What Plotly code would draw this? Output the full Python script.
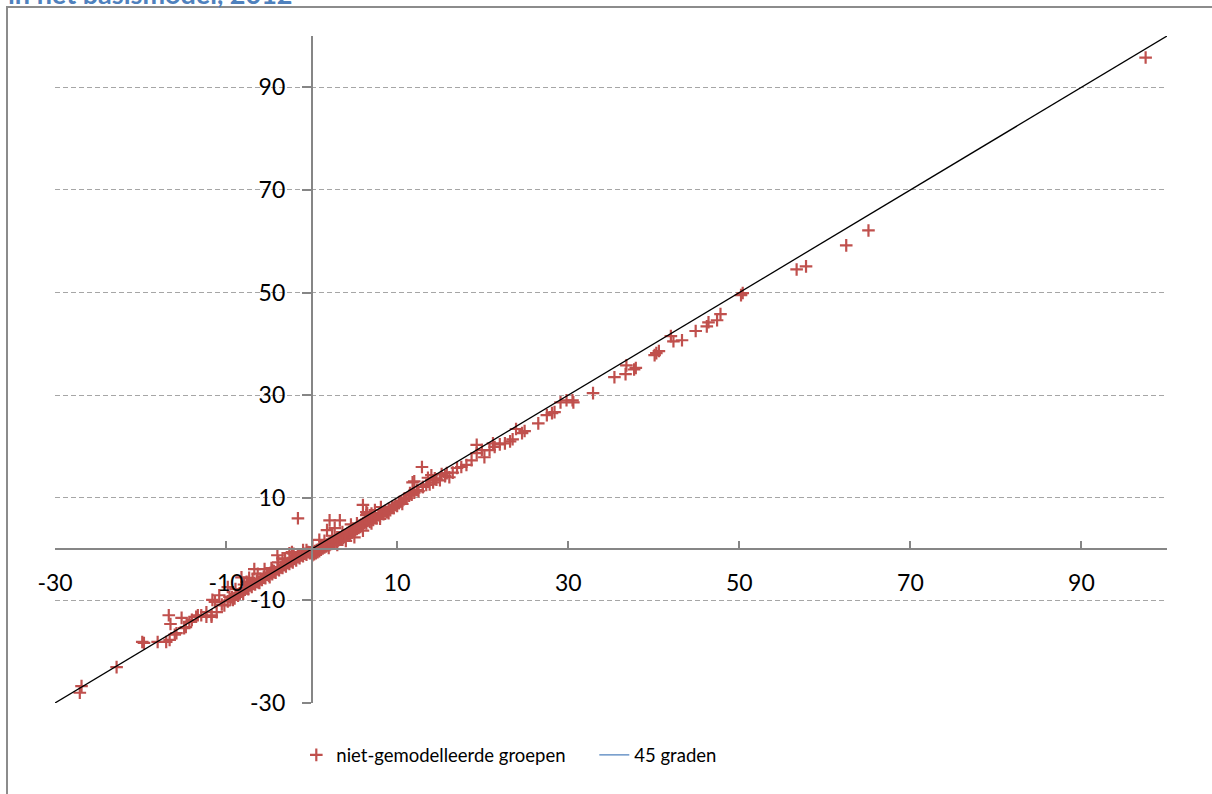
import plotly.graph_objects as go

# --- data ---
pts_x = [
    # far left
    -27.1, -26.9, -22.8, -19.8, -19.6, -18.0, -17.0, -16.6, -16.0, -15.8, -14.9, -14.7,
    -14.0, -13.5, -12.9, -16.7, -16.5, -15.2, -14.3, -13.3, -12.3, -11.7, -11.1, -12.3,
    -11.7, -11.3, -11.6, -10.8, -10.5, -10.2, -9.6, -9.2, -9.8, -8.4, -8.2, -7.6, -7.3,
    -6.9, -6.7, -6.1, -4.9, -4.7, -4.6, -4.0, -3.4, -2.6, -2.3, -1.4, -0.6, -1.6,
    # -10 .. 0 band
    -9.8, -9.5, -9.3, -9.0, -8.8, -8.6, -8.4, -8.2, -8.0, -7.8, -7.6, -7.4, -7.2, -7.0,
    -6.8, -6.6, -6.4, -6.2, -6.0, -5.8, -5.6, -5.4, -5.2, -5.0, -4.8, -4.6, -4.4, -4.2,
    -4.0, -3.8, -3.6, -3.4, -3.2, -3.0, -2.8, -2.6, -2.4, -2.2, -2.0, -1.8, -1.6, -1.4,
    -1.2, -1.0, -0.8, -0.6, -0.4, -0.2, -8.9, -7.9, -6.3, -5.5, -3.9, -3.1, -2.1, -1.0,
    # 0 .. 12 band
    0.1, 0.2, 0.3, 0.4, 0.5, 0.6, 0.7, 0.8, 0.9, 1.0, 1.1, 1.2, 1.3, 1.4, 1.5, 1.6, 1.7,
    1.8, 1.9, 2.0, 2.1, 2.2, 2.3, 2.4, 2.5, 2.6, 2.7, 2.8, 2.9, 3.0, 3.1, 3.2, 3.3, 3.4,
    3.5, 3.6, 3.7, 3.8, 3.9, 4.0, 4.1, 4.2, 4.3, 4.4, 4.5, 4.6, 4.7, 4.8, 4.9, 5.0, 5.1,
    5.2, 5.3, 5.4, 5.5, 5.6, 5.7, 5.8, 5.9, 6.0, 6.2, 6.4, 6.6, 6.8, 7.0, 7.2, 7.4, 7.6,
    7.8, 8.0, 8.2, 8.4, 8.6, 8.8, 9.0, 9.2, 9.4, 9.6, 9.8, 10.0, 10.2, 10.5, 10.8, 11.1,
    11.4, 11.7, 12.0, 4.6, 5.3, 6.4, 7.0, 7.4, 8.1, 3.6, 2.4, 1.5, 3.0, 4.0, 5.0, 6.0,
    2.0, 7.0, 8.0, 9.0, 6.0, 6.4, 6.5, 2.1, 3.3, 1.8, 2.7, 0.9, 0.1, 11.8, 10.3, 10.6,
    10.9, 11.5, 12.3, 13.0,
    # 12 .. 33
    12.5, 13.0, 13.4, 13.8, 14.2, 14.6, 15.0, 15.6, 16.1, 16.5, 17.0, 17.5, 18.1, 18.7,
    19.3, 19.9, 19.3, 20.2, 20.8, 21.2, 21.4, 22.0, 22.6, 23.2, 23.5, 23.9, 24.6, 24.9,
    26.5, 27.5, 28.1, 28.4, 29.1, 29.8, 30.5, 30.6, 32.9, 12.9, 12.0, 13.6, 14.0, 14.4,
    15.2, 15.8,
    # 33 .. 100
    35.4, 36.7, 36.8, 37.7, 37.9, 40.1, 40.3, 40.6, 42.0, 42.3, 43.3, 44.9, 46.2, 46.4,
    47.4, 47.8, 50.2, 50.4, 56.7, 57.8, 62.5, 65.1, 97.5,
]
pts_y = [
    -28.0, -26.7, -23.0, -18.1, -18.3, -18.1, -18.1, -17.7, -16.7, -16.4, -15.4, -15.2,
    -13.8, -13.2, -12.9, -12.9, -14.6, -13.4, -14.2, -12.9, -13.2, -13.2, -12.3, -12.3,
    -12.9, -10.3, -9.9, -9.0, -10.8, -11.0, -9.3, -9.9, -7.4, -8.6, -5.5, -6.4, -5.6,
    -6.0, -3.9, -6.6, -5.5, -3.7, -4.1, -1.2, -1.8, -0.8, -0.6, -1.2, -0.2, 6.0,
    -10.2, -9.8, -9.4, -9.6, -8.9, -9.1, -8.6, -8.3, -8.7, -7.9, -7.6, -7.8, -7.1, -7.4,
    -6.6, -6.9, -6.2, -6.5, -5.8, -6.0, -5.4, -5.7, -4.9, -5.2, -4.6, -4.9, -4.3, -4.6,
    -3.9, -4.1, -3.5, -3.7, -3.1, -3.4, -2.7, -2.9, -2.3, -2.6, -1.9, -2.2, -1.5, -1.8,
    -1.2, -1.4, -0.9, -1.1, -0.6, -0.8, -7.8, -6.9, -4.8, -3.9, -2.6, -2.0, -0.9, -0.2,
    -1.2, -0.6, -1.0, -0.4, -0.8, -0.2, -0.6, -0.1, -0.4, 0.2, -0.1, 0.4, 0.1, 0.6, 0.3,
    0.7, 0.5, 0.9, 0.7, 1.1, 0.8, 1.3, 1.0, 1.4, 1.2, 1.6, 1.3, 1.8, 1.5, 1.9, 1.7, 2.1,
    1.9, 2.3, 2.0, 2.5, 2.2, 2.7, 2.4, 2.9, 2.6, 3.1, 2.8, 3.3, 3.0, 3.5, 3.2, 3.7, 3.4,
    3.9, 3.7, 4.1, 3.9, 4.3, 4.1, 4.6, 4.3, 4.8, 4.5, 5.0, 5.2, 5.0, 5.6, 5.3, 5.9, 5.7,
    6.3, 6.0, 6.6, 6.4, 7.0, 6.8, 7.4, 7.2, 7.8, 7.6, 8.2, 8.0, 8.6, 8.4, 9.0, 9.3, 9.7,
    9.9, 10.4, 10.6, 11.0, 4.8, 5.0, 6.6, 6.9, 7.6, 8.2, 3.3, 2.6, 1.6, 0.8, 1.6, 2.3,
    3.6, 0.2, 5.0, 5.9, 7.0, 8.6, 7.2, 7.0, 5.6, 5.6, 3.7, 4.1, 1.8, 0.4, 13.0, 9.2, 8.8,
    9.9, 10.9, 11.5, 12.1,
    11.3, 12.1, 12.5, 12.6, 13.0, 13.5, 13.4, 14.2, 14.0, 14.9, 15.8, 16.0, 16.4, 17.3,
    18.7, 19.3, 20.3, 17.9, 19.3, 20.6, 19.9, 20.4, 20.6, 21.0, 21.4, 23.4, 22.6, 23.0,
    24.5, 26.1, 26.5, 26.7, 28.6, 29.0, 29.0, 28.6, 30.4, 16.0, 13.2, 13.9, 14.4, 13.8,
    14.6, 14.8,
    33.5, 34.1, 35.8, 35.0, 35.3, 37.8, 38.2, 38.6, 41.5, 40.5, 40.7, 42.5, 43.4, 44.2,
    44.6, 45.8, 49.5, 49.9, 54.5, 55.1, 59.2, 62.1, 95.8,
]
line_x = [-30, 100]
line_y = [-30, 100]
tick_vals = [-30, -10, 10, 30, 50, 70, 90]
tick_text = ["-30", "-10", "10", "30", "50", "70", "90"]
series_names = ["niet-gemodelleerde groepen", "45 graden"]
title_text = "in het basismodel, 2012"

FONT = "Lato, Carlito, Calibri, sans-serif"
RED = "#C0504D"
AXIS = "#868686"

fig = go.Figure()
fig.add_trace(go.Scatter(
    x=pts_x, y=pts_y, mode="markers", name=series_names[0],
    marker=dict(symbol="cross-thin", size=9, line=dict(color=RED, width=2.2), color=RED),
))
fig.add_trace(go.Scatter(
    x=line_x, y=line_y, mode="lines", name=series_names[1], showlegend=False,
    line=dict(color="black", width=1.3),
))
# legend entry (Excel shows the legend line in blue)
fig.add_trace(go.Scatter(
    x=[None], y=[None], mode="lines", name=series_names[1],
    line=dict(color="#4F81BD", width=1.3),
))

W, H = 1212, 794
ML, MR, MT, MB = 55, 45, 36, 91
pw, ph = W - ML - MR, H - MT - MB

zero_frac = 30 / 130
fig.update_layout(
    width=W, height=H,
    margin=dict(l=ML, r=MR, t=MT, b=MB),
    paper_bgcolor="white", plot_bgcolor="white",
    font=dict(family=FONT, size=23, color="black"),
    showlegend=True,
    legend=dict(orientation="h", x=0.217, xanchor="left", y=-0.05, yanchor="top",
                font=dict(size=18.5), itemwidth=30, entrywidth=253, entrywidthmode="pixels"),
    xaxis=dict(range=[-30, 100], tickvals=tick_vals, ticktext=tick_text,
               ticks="inside", ticklen=7,
               tickcolor=AXIS, tickwidth=1.5, showline=True, linecolor=AXIS, linewidth=1.5,
               showgrid=False, zeroline=False, anchor="free", position=zero_frac,
               ticklabelstandoff=14, tickfont=dict(size=23)),
    yaxis=dict(range=[-30, 100], tickvals=tick_vals, ticktext=tick_text,
               ticks="outside", ticklen=9,
               tickcolor=AXIS, tickwidth=1.5, showline=True, linecolor=AXIS, linewidth=1.5,
               showgrid=True, gridcolor="#A6A6A6", gridwidth=1, griddash="5px,3px",
               zeroline=False, anchor="free", position=zero_frac,
               ticklabelstandoff=12, tickfont=dict(size=23)),
)

# outer chart border (only left and top edges fall inside the picture)
bx = (7 - ML) / pw
by = 1 + (MT - 7) / ph
fig.add_shape(type="rect", xref="paper", yref="paper", x0=bx, y0=-0.5, x1=1.5, y1=by,
              line=dict(color="#8C8C8C", width=2), fillcolor="rgba(0,0,0,0)", layer="below")

fig.add_annotation(text="<b>" + title_text + "</b>", xref="paper", yref="paper",
                   x=(6 - ML) / pw, y=1 + (MT - 12) / ph, xanchor="left", yanchor="bottom",
                   showarrow=False, font=dict(family=FONT, size=27, color="#4F81BD"),
                   align="left")

fig.write_html("out.html", config={"displayModeBar": False},
               post_script="document.body.style.margin='0px';")
